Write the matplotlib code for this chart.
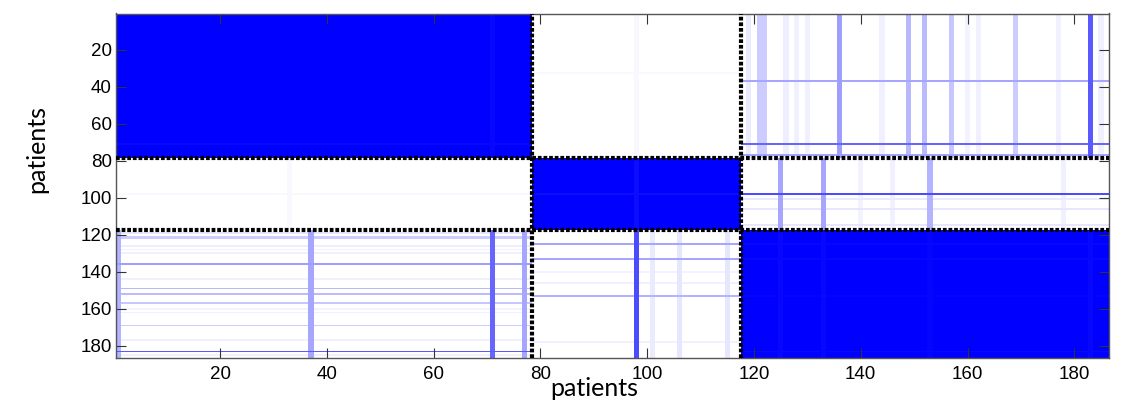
import numpy as np
import matplotlib
matplotlib.use('Agg')
import matplotlib.pyplot as plt
from matplotlib.colors import LinearSegmentedColormap

# patient groups (1-based, inclusive)
n_patients = 186
groups = [(1, 78), (79, 117), (118, 186)]
tick_vals = [20, 40, 60, 80, 100, 120, 140, 160, 180]

# slightly weaker within-group similarity for a few patients
within_dips = {71: 0.97, 98: 0.95, 125: 0.97, 133: 0.97, 153: 0.98, 183: 0.97}

# cross-group similarity stripes: patient -> strength
# group 1 vs group 3
g1_vs_g3 = {1: 0.3, 37: 0.35, 71: 0.6, 77: 0.35}
g3_vs_g1 = {119: 0.08, 121: 0.2, 122: 0.2, 126: 0.07, 128: 0.06, 130: 0.06,
            136: 0.38, 144: 0.06, 149: 0.28, 152: 0.27, 157: 0.22, 160: 0.05,
            162: 0.06, 169: 0.2, 177: 0.06, 183: 0.65, 185: 0.06}
# group 2 vs group 3
g2_vs_g3 = {98: 0.7, 101: 0.08, 106: 0.1, 115: 0.1}
g3_vs_g2 = {125: 0.35, 133: 0.35, 153: 0.3, 140: 0.05, 146: 0.06, 178: 0.06}
# group 1 vs group 2 (almost nothing)
g1_vs_g2 = {33: 0.03}
g2_vs_g1 = {98: 0.03}


def build_matrix():
    M = np.zeros((n_patients, n_patients))
    for a, b in groups:
        M[a - 1:b, a - 1:b] = 1.0
    for p, v in within_dips.items():
        for a, b in groups:
            if a <= p <= b:
                M[p - 1, a - 1:b] = np.minimum(M[p - 1, a - 1:b], v)
                M[a - 1:b, p - 1] = np.minimum(M[a - 1:b, p - 1], v)

    def cross(ga, gb, sa, sb):
        a0, a1 = groups[ga]
        b0, b1 = groups[gb]
        blk = np.zeros((a1 - a0 + 1, b1 - b0 + 1))
        for p, v in sa.items():
            blk[p - a0, :] = np.maximum(blk[p - a0, :], v)
        for p, v in sb.items():
            blk[:, p - b0] = np.maximum(blk[:, p - b0], v)
        M[a0 - 1:a1, b0 - 1:b1] = blk
        M[b0 - 1:b1, a0 - 1:a1] = blk.T

    cross(0, 2, g1_vs_g3, g3_vs_g1)
    cross(1, 2, g2_vs_g3, g3_vs_g2)
    cross(0, 1, g1_vs_g2, g2_vs_g1)
    return M


M = build_matrix()
cmap = LinearSegmentedColormap.from_list("wb", ["#ffffff", "#0000ff"])

fig = plt.figure(figsize=(11.29, 4.0), dpi=100)
ax = fig.add_axes([116 / 1129, 1 - 358 / 400, (1109 - 116) / 1129, (358 - 13.5) / 400])
ax.imshow(M, cmap=cmap, vmin=0, vmax=1, aspect='auto', interpolation='nearest',
          extent=(0.5, n_patients + 0.5, n_patients + 0.5, 0.5))

# dotted group boundaries
for a, b in groups[:-1]:
    edge = b + 0.5
    ax.axvline(edge, color='black', lw=3.0, ls=(0, (0.9, 0.45)), zorder=3)
    ax.axhline(edge, color='black', lw=3.0, ls=(0, (0.9, 0.45)), zorder=3)

ax.set_xlim(0.5, n_patients + 0.5)
ax.set_ylim(n_patients + 0.5, 0.5)
ax.set_xticks(tick_vals)
ax.set_yticks(tick_vals)
ax.tick_params(direction='in', length=7.5, width=0.8, color='#333333',
               top=True, right=True, labelsize=13.5)
ax.tick_params(axis='x', pad=6)
ax.tick_params(axis='y', pad=3)
for lab in ax.get_xticklabels() + ax.get_yticklabels():
    lab.set_fontfamily('Liberation Sans')
for s in ax.spines.values():
    s.set_color('#555555')
    s.set_linewidth(1.0)

fig.text(37 / 1129, 1 - 149 / 400, 'patients', rotation=90, ha='center', va='center',
         fontsize=18, family='Lato')
fig.text(594 / 1129, 1 - 396 / 400, 'patients', ha='center', va='baseline',
         fontsize=18, family='Lato')

plt.savefig('out.png', dpi=100)
plt.close()
